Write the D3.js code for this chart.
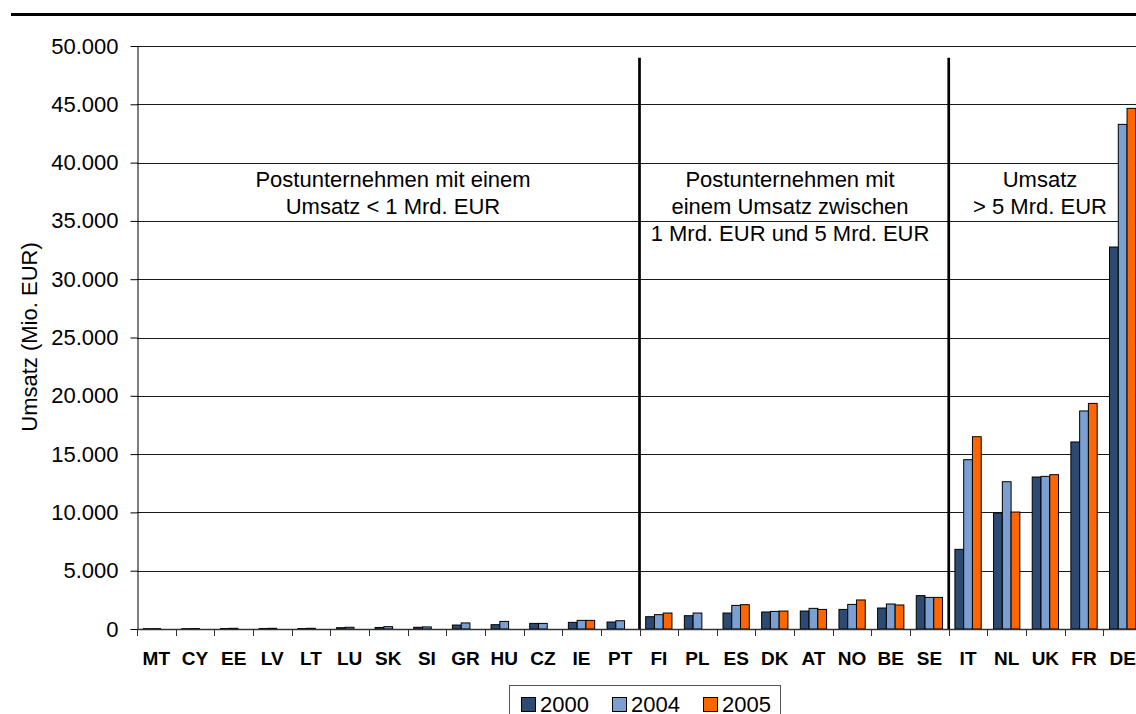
<!DOCTYPE html>
<html>
<head>
<meta charset="utf-8">
<script src="https://cdn.jsdelivr.net/npm/d3@7"></script>
<style>
  body { margin: 0; background: #fff; }
  svg { display: block; font-family: "Liberation Sans", Arial, sans-serif; }
</style>
</head>
<body>
<script>
// Umsatz der Postunternehmen (Mio. EUR)
const countries = ["MT","CY","EE","LV","LT","LU","SK","SI","GR","HU","CZ","IE","PT",
                   "FI","PL","ES","DK","AT","NO","BE","SE","IT","NL","UK","FR","DE"];
const years = ["2000", "2004", "2005"];
const v2000 = [30, 30, 40, 45, 40, 110, 130, 150, 340, 370, 480, 570, 600,
               1055, 1140, 1370, 1460, 1540, 1680, 1800, 2860, 6830, 9950, 13035, 16040, 32760];
const v2004 = [35, 40, 60, 60, 60, 150, 200, 180, 520, 650, 480, 740, 710,
               1230, 1370, 2025, 1510, 1770, 2110, 2145, 2710, 14520, 12630, 13090, 18700, 43280];
const v2005 = [null, null, null, null, null, null, null, null, null, null, null, 740, null,
               1370, null, 2085, 1540, 1680, 2490, 2060, 2710, 16490, 10030, 13235, 19350, 44650];
const yTicks = [0, 5000, 10000, 15000, 20000, 25000, 30000, 35000, 40000, 45000, 50000];
// group boundaries (index of first country in each new group)
const groupBreaks = [13, 21];
const groupLabels = [
  { lines: ["Postunternehmen mit einem", "Umsatz < 1 Mrd. EUR"], cx: 393 },
  { lines: ["Postunternehmen mit", "einem Umsatz zwischen", "1 Mrd. EUR und 5 Mrd. EUR"], cx: 790 },
  { lines: ["Umsatz", "> 5 Mrd. EUR"], cx: 1040 }
];
const colors = { "2000": "#2c4a72", "2004": "#7a9fd0", "2005": "#ff6600" };

const series = { "2000": v2000, "2004": v2004, "2005": v2005 };

const width = 1136, height = 714;
const mLeft = 137, mRight = 1142, mTop = 46, mBottom = 629;

const svg = d3.select("body").append("svg")
  .attr("width", width)
  .attr("height", height);

const x = d3.scaleBand().domain(countries).range([mLeft, mRight]).padding(0);
const bw = x.bandwidth();
const x1 = d3.scaleBand().domain(years).range([bw * 0.16, bw * 0.84]).padding(0);
const y = d3.scaleLinear().domain([0, 50000]).range([mBottom, mTop]);

const de = d3.formatLocale({ decimal: ",", thousands: ".", grouping: [3], currency: ["", " €"] });
const fmt = de.format(",");

// top rule
svg.append("line")
  .attr("x1", 11).attr("x2", width)
  .attr("y1", 14.5).attr("y2", 14.5)
  .attr("stroke", "#000").attr("stroke-width", 3);

// gridlines
svg.append("g")
  .selectAll("line")
  .data(yTicks.filter(d => d > 0))
  .enter().append("line")
    .attr("x1", mLeft).attr("x2", width)
    .attr("y1", d => Math.round(y(d)) + 0.5)
    .attr("y2", d => Math.round(y(d)) + 0.5)
    .attr("stroke", "#1a1a1a").attr("stroke-width", 1);

// y axis
let yAxis = svg.append("g")
  .attr("transform", `translate(${mLeft + 0.5},0)`)
  .call(d3.axisLeft(y).tickValues(yTicks).tickFormat(fmt).tickSize(7).tickPadding(12).tickSizeOuter(0))
yAxis.select(".domain").attr("stroke", "#000");
yAxis.selectAll(".tick line").attr("stroke", "#000");
yAxis.selectAll("text")
  .attr("font-size", 22)
  .attr("font-family", "Liberation Sans, Arial, sans-serif")
  .attr("fill", "#000");

// bars
const rows = countries.map((c, i) => ({ c, vals: years.map(yr => ({ yr, v: series[yr][i] })) }));

svg.append("g")
  .selectAll("g")
  .data(rows)
  .enter().append("g")
    .attr("transform", d => `translate(${x(d.c)},0)`)
  .selectAll("rect")
  .data(d => d.vals.filter(e => e.v != null))
  .enter().append("rect")
    .attr("x", d => x1(d.yr))
    .attr("width", x1.bandwidth())
    .attr("y", d => y(d.v))
    .attr("height", d => mBottom - y(d.v))
    .attr("fill", d => colors[d.yr])
    .attr("stroke", "#000")
    .attr("stroke-width", 1);

// x axis line and ticks at band boundaries
svg.append("line")
  .attr("x1", mLeft).attr("x2", width)
  .attr("y1", mBottom + 0.5).attr("y2", mBottom + 0.5)
  .attr("stroke", "#333").attr("stroke-width", 1.5);

svg.append("g")
  .selectAll("line")
  .data(countries)
  .enter().append("line")
    .attr("x1", d => Math.round(x(d)) + 0.5)
    .attr("x2", d => Math.round(x(d)) + 0.5)
    .attr("y1", mBottom).attr("y2", mBottom + 7)
    .attr("stroke", "#333");

svg.append("g")
  .selectAll("text")
  .data(countries)
  .enter().append("text")
    .attr("x", d => x(d) + bw / 2)
    .attr("y", 665)
    .attr("text-anchor", "middle")
    .attr("font-size", 19)
    .attr("font-weight", "bold")
    .text(d => d);

// group separators
svg.append("g")
  .selectAll("line")
  .data(groupBreaks)
  .enter().append("line")
    .attr("x1", d => x(countries[d]))
    .attr("x2", d => x(countries[d]))
    .attr("y1", y(49000)).attr("y2", mBottom)
    .attr("stroke", "#000").attr("stroke-width", 2.7);

// group labels
groupLabels.forEach(g => {
  const t = svg.append("text")
    .attr("text-anchor", "middle")
    .attr("font-size", 22)
    .attr("fill", "#000");
  g.lines.forEach((ln, i) => {
    t.append("tspan")
      .attr("x", g.cx)
      .attr("y", 187 + i * 27)
      .text(ln);
  });
});

// y axis title
svg.append("text")
  .attr("transform", `translate(37,${337}) rotate(-90)`)
  .attr("text-anchor", "middle")
  .attr("font-size", 22)
  .text("Umsatz (Mio. EUR)");

// legend
let legend = svg.append("g").attr("id", "legend");
legend.append("rect")
  .attr("x", 509.5).attr("y", 685.5)
  .attr("width", 271).attr("height", 40)
  .attr("fill", "#fff")
  .attr("stroke", "#555");

let items = legend.selectAll("g.item")
  .data(years)
  .enter().append("g")
    .attr("class", "item")
    .attr("transform", (d, i) => `translate(${521 + i * 91},0)`);

items.append("rect")
  .attr("x", 0.5).attr("y", 697.5)
  .attr("width", 14).attr("height", 14)
  .attr("fill", d => colors[d])
  .attr("stroke", "#000");

items.append("text")
  .attr("x", 19)
  .attr("y", 712)
  .attr("font-size", 22)
  .text(d => d);
</script>
</body>
</html>
